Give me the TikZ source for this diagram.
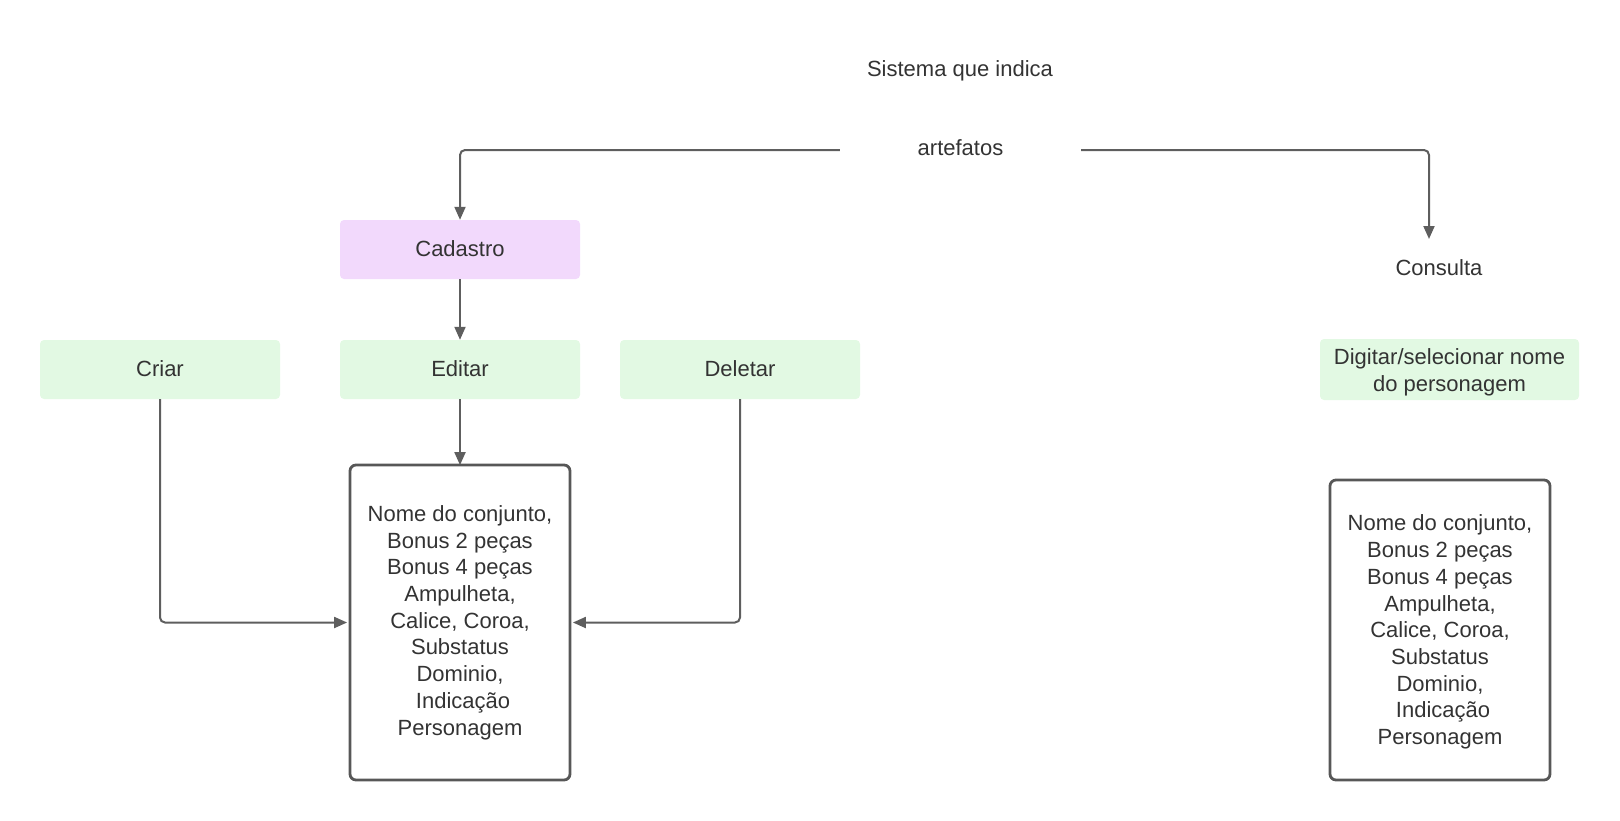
\documentclass[tikz,border=0pt]{standalone}
\usepackage{fontspec}
\setmainfont{Liberation Sans}
\usetikzlibrary{arrows.meta}
\definecolor{txt}{HTML}{333333}
\definecolor{ln}{HTML}{5E5E5E}
\definecolor{purp}{HTML}{F2D9FC}
\definecolor{grn}{HTML}{E2F9E3}
\definecolor{bord}{HTML}{575757}
\tikzset{
  lbl/.style={text=txt, font=\fontsize{22}{26.7}\selectfont, align=center, inner sep=0pt},
  purpbox/.style={lbl, fill=purp, rounded corners=4pt, minimum width=240pt, minimum height=59pt},
  grnbox/.style={lbl, fill=grn, rounded corners=4pt, minimum width=240pt, minimum height=59pt},
  listbox/.style={lbl, draw=bord, line width=2.8pt, rounded corners=6pt, minimum width=220pt},
  conn/.style={draw=ln, line width=2pt, rounded corners=5pt, -{Triangle[length=13pt,width=11pt]}}
}
\begin{document}
\begin{tikzpicture}[x=1pt,y=-1pt]
\useasboundingbox (0,0) rectangle (1620,820);
\node[lbl] (sys) at (960,71) {Sistema que indica};
\node[lbl, minimum width=241pt, minimum height=30pt] (art) at (960.5,148) {artefatos};
\node[purpbox] (cad) at (460,249.5) {\raisebox{1pt}{Cadastro}};
\node[grnbox] (criar) at (160,369.5) {\raisebox{1pt}{Criar}};
\node[grnbox] (edit) at (460,369.5) {\raisebox{1pt}{Editar}};
\node[grnbox] (del) at (740,369.5) {\raisebox{1pt}{Deletar}};
\node[listbox, minimum height=315pt] (lbox) at (460,622.5) {Nome do conjunto,\\Bonus 2 peças\\Bonus 4 peças\\Ampulheta,\\Calice, Coroa,\\Substatus\\Dominio,\\\ Indicação\\Personagem};
\node[lbl] (cons) at (1439,268) {Consulta};
\coordinate (constop) at (1429,239);
\node[grnbox, minimum width=259pt, minimum height=61pt,
      label={[lbl, yshift=-3pt]center:Digitar/selecionar nome\\do personagem}] (dig) at (1449.5,369.5) {};
\node[listbox, minimum height=300pt,
      label={[lbl, yshift=-2pt]center:Nome do conjunto,\\Bonus 2 peças\\Bonus 4 peças\\Ampulheta,\\Calice, Coroa,\\Substatus\\Dominio,\\\ Indicação\\Personagem}] (rbox) at (1440,630) {};
\draw[conn] ([yshift=-2pt]art.west) -| (cad.north);
\draw[conn] ([yshift=-2pt]art.east) -| (constop);
\draw[conn] (cad.south) -- (edit.north);
\draw[conn] (edit.south) -- ([yshift=-1.5pt]lbox.north);
\draw[conn] (criar.south) |- ([xshift=-1.5pt]lbox.west);
\draw[conn] (del.south) |- ([xshift=1.5pt]lbox.east);
\end{tikzpicture}
\end{document}
